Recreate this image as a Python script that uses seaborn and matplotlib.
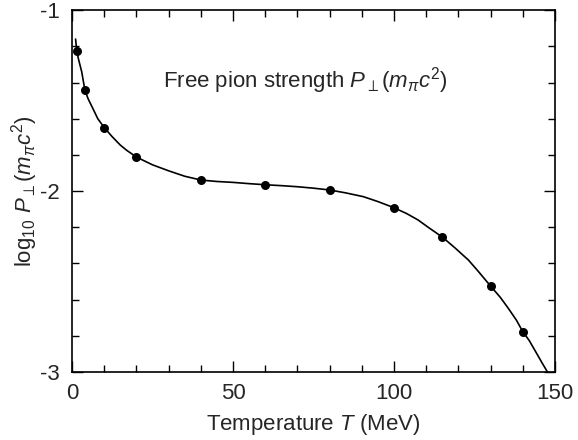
import matplotlib
matplotlib.use("Agg")
import matplotlib.pyplot as plt
import seaborn as sns
import pandas as pd
from matplotlib.ticker import MultipleLocator

# Data points (dots)
pt_T = [1.5, 4, 10, 20, 40, 60, 80, 100, 115, 130, 140]
pt_logP = [-1.228, -1.442, -1.649, -1.812, -1.939, -1.965, -1.994, -2.092, -2.254, -2.525, -2.777]

# Curve samples
curve_T = [1.1, 1.5, 2, 3, 4, 5, 6.7, 8, 10, 12.5, 15, 17, 20, 25, 30, 35, 40, 45, 50,
           55, 60, 65, 70, 75, 80, 85, 90.5, 95, 100, 104, 107.5, 111, 115, 119, 123.1,
           126, 130, 133, 135.5, 138, 140, 142, 144.3, 146, 147.9]
curve_logP = [-1.16, -1.228, -1.27, -1.34, -1.442, -1.49, -1.552, -1.60, -1.649, -1.70,
              -1.746, -1.775, -1.812, -1.855, -1.888, -1.918, -1.939, -1.947, -1.952,
              -1.959, -1.965, -1.970, -1.976, -1.984, -1.994, -2.010, -2.031, -2.058,
              -2.092, -2.125, -2.160, -2.205, -2.254, -2.315, -2.381, -2.44, -2.525,
              -2.587, -2.648, -2.713, -2.777, -2.826, -2.897, -2.95, -3.007]

x_ticks = [0, 50, 100, 150]
y_ticks = [-3, -2, -1]

sns.set_style("ticks")
plt.rcParams['font.family'] = ['Liberation Sans', 'DejaVu Sans']
plt.rcParams['mathtext.fontset'] = 'custom'
plt.rcParams['mathtext.rm'] = 'Liberation Sans'
plt.rcParams['mathtext.it'] = 'Liberation Sans:italic'
plt.rcParams['mathtext.bf'] = 'Liberation Sans:bold'

fig = plt.figure(figsize=(5.78, 4.4), dpi=100)
ax = fig.add_axes([0.1246, 0.1545, 0.8356, 0.8225])

curve_df = pd.DataFrame({"T": curve_T, "logP": curve_logP})
pts_df = pd.DataFrame({"T": pt_T, "logP": pt_logP})

sns.lineplot(data=curve_df, x="T", y="logP", ax=ax, color="black", linewidth=1.2,
             sort=False, estimator=None)
sns.scatterplot(data=pts_df, x="T", y="logP", ax=ax, color="black", s=42,
                edgecolor="black", linewidth=0, zorder=3)

ax.set_xlim(0, 150)
ax.set_ylim(-3, -1)
ax.set_xticks(x_ticks)
ax.set_yticks(y_ticks)
ax.set_xticklabels([str(v) for v in x_ticks])
ax.set_yticklabels([str(v) for v in y_ticks])
ax.xaxis.set_minor_locator(MultipleLocator(10))
ax.yaxis.set_minor_locator(MultipleLocator(0.2))
ax.tick_params(which="both", direction="in", top=True, right=True, width=1.0,
               color="black", labelsize=16)
ax.tick_params(axis="x", which="major", pad=8)
ax.tick_params(axis="y", which="major", pad=9)
ax.tick_params(which="major", length=8)
ax.tick_params(which="minor", length=5)
for s in ax.spines.values():
    s.set_linewidth(1.2)
    s.set_color("black")

ax.set_xlabel(r"Temperature $T$ (MeV)", fontsize=16, labelpad=6)
ax.set_ylabel(r"log$_{10}$ $P_{\perp}(m_{\pi}c^2)$", fontsize=16, labelpad=0)

ax.text(72.5, -1.39, r"Free pion strength $P_{\perp}(m_{\pi}c^2)$", fontsize=16,
        ha="center", va="center")

fig.savefig("out.png", dpi=100)
